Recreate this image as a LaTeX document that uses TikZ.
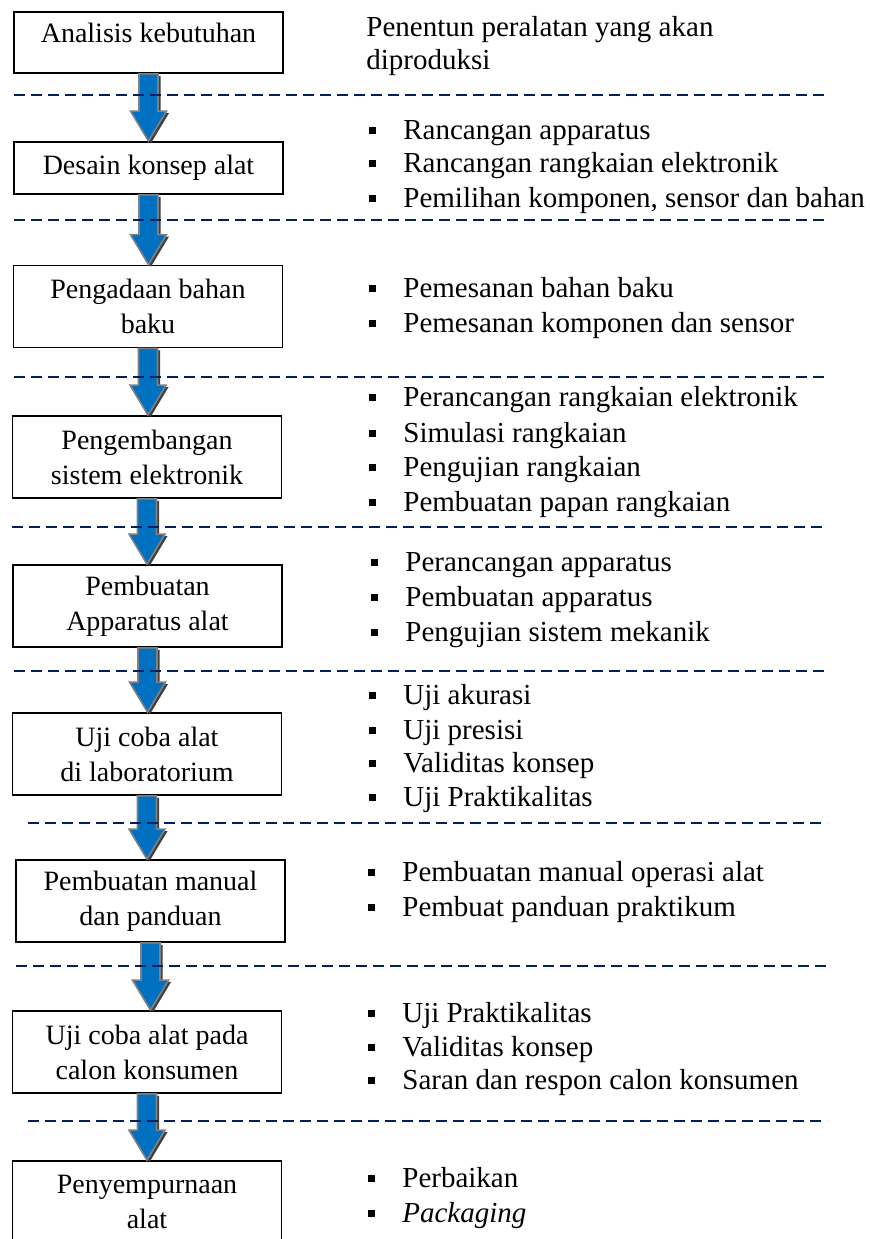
\documentclass[tikz,border=0pt]{standalone}
\usepackage{fontspec}
\setmainfont{Liberation Serif}
\usetikzlibrary{calc}

\definecolor{navy}{RGB}{0,32,96}
\definecolor{arrowblue}{RGB}{0,112,192}
\definecolor{arrowgray}{RGB}{128,128,128}
\definecolor{shadowgray}{RGB}{64,64,64}

% square bullet in front of each line
\newcommand{\sqbullet}{\makebox[17pt][l]{\rule[2.9pt]{3.5pt}{3.5pt}}}

% block arrow from the bottom of #1 to the top of #2, shifted by #3
\newcommand{\arrowpath}[3]{%
  ($(#1.south)+(-9.5,0)+(#3)$) -- ($(#1.south |- #2.north)+(-9.5,-30)+(#3)$)
  -- ($(#1.south |- #2.north)+(-18,-30)+(#3)$) -- ($(#1.south |- #2.north)+(#3)$)
  -- ($(#1.south |- #2.north)+(18,-30)+(#3)$) -- ($(#1.south |- #2.north)+(9.5,-30)+(#3)$)
  -- ($(#1.south)+(9.5,0)+(#3)$) -- cycle}

\tikzset{
  stage/.style={draw=black, line width=0.9pt, fill=white, minimum width=134.5pt,
    minimum height=41pt, inner sep=0pt, align=center, font=\fontsize{14}{17.5}\selectfont},
  entry/.style={anchor=west, inner sep=0pt, text height=9.5pt, text depth=0pt,
    font=\fontsize{14.5}{17.5}\selectfont},
  divider/.style={navy, line width=1.15pt, dash pattern=on 5.5pt off 3pt},
  arrowbody/.style={fill=arrowblue, draw=arrowgray, line width=0.8pt},
  arrowshade/.style={fill=shadowgray},
}

\begin{document}
\begin{tikzpicture}[x=0.5pt,y=-0.5pt]

    \path[use as bounding box, clip] (0,0) rectangle (869,1239);

    % stages
    \node[stage, minimum height=30.5pt, text height=15pt, text depth=15.5pt] (b1) at (148.5,42.5) {Analisis kebutuhan};
    \node[stage, minimum height=26pt] (b2) at (148.5,168) {Desain konsep alat};
    \node[stage] (b3) at (148,306.5) {Pengadaan bahan\\baku};
    \node[stage] (b4) at (147,457) {Pengembangan\\sistem elektronik};
    \node[stage] (b5) at (147.5,606) {Pembuatan\\Apparatus alat};
    \node[stage] (b6) at (147,754) {Uji coba alat\\di laboratorium};
    \node[stage] (b7) at (150.5,901) {Pembuatan manual\\dan panduan};
    \node[stage] (b8) at (147,1052) {Uji coba alat pada\\calon konsumen};
    \node[stage] (b9) at (147,1202) {Penyempurnaan\\alat};

    % block arrows
    \foreach \a/\b in {b1/b2,b2/b3,b3/b4,b4/b5,b5/b6,b6/b7,b7/b8,b8/b9} {
      \fill[arrowshade] \arrowpath{\a}{\b}{2.5,2};
      \draw[arrowbody] \arrowpath{\a}{\b}{0,0};
    }

    % dashed separators
    \foreach \xs/\y in {14/95,14/220,14/377,12/527,14/671,28/823,16/966,28/1121}
      \draw[divider] (\xs,\y) -- (827,\y);

    % descriptions
    \node[entry] (p1) at (366,27) {Penentun peralatan yang akan};
    \node[entry] (p2) at (366,60) {diproduksi};
    \foreach \x/\y/\t [count=\i] in {
        369/130/Rancangan apparatus,
        369/163/Rancangan rangkaian elektronik,
        369/198/{Pemilihan komponen, sensor dan bahan},
        369/288/Pemesanan bahan baku,
        369/323/Pemesanan komponen dan sensor,
        369/397/Perancangan rangkaian elektronik,
        369/433/Simulasi rangkaian,
        369/467/Pengujian rangkaian,
        369/502/Pembuatan papan rangkaian,
        371/562/Perancangan apparatus,
        371/597/Pembuatan apparatus,
        371/632/Pengujian sistem mekanik,
        369/695/Uji akurasi,
        369/730/Uji presisi,
        369/763/Validitas konsep,
        369/797/Uji Praktikalitas,
        368/872/Pembuatan manual operasi alat,
        368/907/Pembuat panduan praktikum,
        368/1013/Uji Praktikalitas,
        368/1047/Validitas konsep,
        368/1080/Saran dan respon calon konsumen,
        368/1178/Perbaikan,
        368/1213/\textit{Packaging}}
      \node[entry] (line\i) at (\x,\y) {\sqbullet\t};

  \end{tikzpicture}
\end{document}
